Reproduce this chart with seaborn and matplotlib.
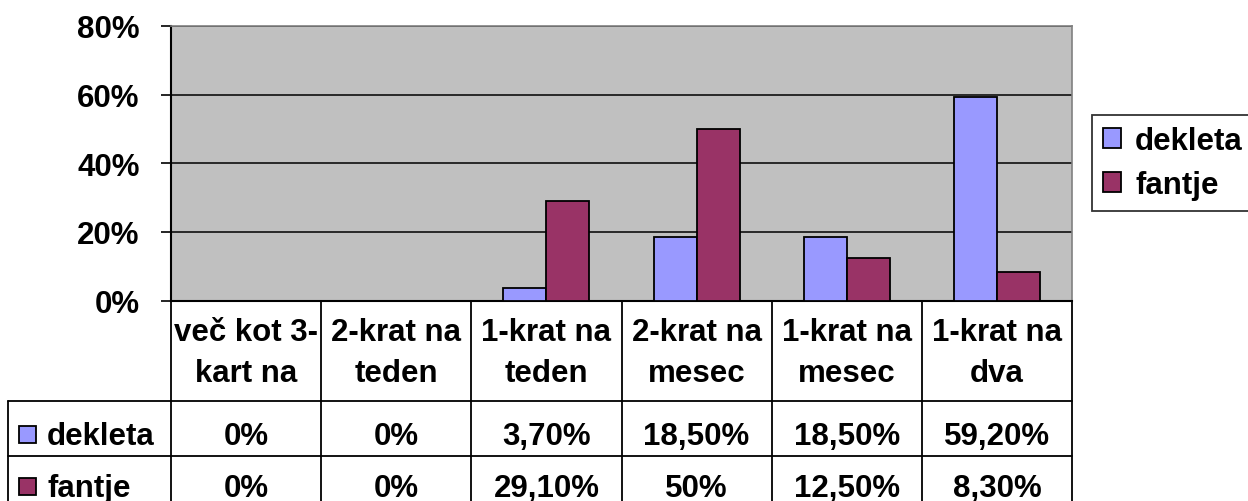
import matplotlib
matplotlib.use("Agg")
import matplotlib.pyplot as plt
from matplotlib.patches import Patch, Rectangle
import seaborn as sns
import pandas as pd

# ---------------- data ----------------
categories = ["več kot 3-\nkart na", "2-krat na\nteden", "1-krat na\nteden",
              "2-krat na\nmesec", "1-krat na\nmesec", "1-krat na\ndva"]
series_names = ["dekleta", "fantje"]
dekleta = [0.0, 0.0, 3.7, 18.5, 18.5, 59.2]
fantje = [0.0, 0.0, 29.1, 50.0, 12.5, 8.3]
dekleta_labels = ["0%", "0%", "3,70%", "18,50%", "18,50%", "59,20%"]
fantje_labels = ["0%", "0%", "29,10%", "50%", "12,50%", "8,30%"]
yticks = [0, 20, 40, 60, 80]
ytick_labels = ["0%", "20%", "40%", "60%", "80%"]
colors = ["#9999FF", "#993366"]

df = pd.DataFrame({
    "cat": categories * 2,
    "series": [series_names[0]] * 6 + [series_names[1]] * 6,
    "value": dekleta + fantje,
})

# ---------------- style ----------------
sns.set_style("white")
plt.rcParams["font.family"] = ["Liberation Sans", "DejaVu Sans"]
plt.rcParams["font.weight"] = "bold"
for k in ["text.color", "axes.labelcolor", "xtick.color", "ytick.color"]:
    plt.rcParams[k] = "black"
FS = 22.5

W, H = 1248, 502
fig = plt.figure(figsize=(W / 100, H / 100), dpi=100)
L, R, T, B = 171, 1072, 26.9, 301.7
ax = fig.add_axes([L / W, 1 - B / H, (R - L) / W, (B - T) / H])

sns.barplot(data=df, x="cat", y="value", hue="series", order=categories,
            hue_order=series_names, palette=colors, width=0.572, gap=0,
            edgecolor="black", linewidth=1.3, saturation=1, ax=ax,
            legend=False, zorder=3)

ax.set_facecolor("#C0C0C0")
ax.set_ylim(0, 80)
ax.set_xlim(-0.5, len(categories) - 0.5)
ax.set_yticks(yticks)
ax.set_yticklabels(ytick_labels, fontsize=FS, fontweight="bold", color="black")
ax.set_xticks([])
ax.set_xlabel("")
ax.set_ylabel("")
ax.tick_params(axis="y", length=7.5, width=1.2, pad=15, direction="out", color="black", left=True)
ax.yaxis.grid(True, color="black", linewidth=1.1, zorder=1)
ax.set_axisbelow(True)
for s in ["top", "right"]:
    ax.spines[s].set_color("#808080")
    ax.spines[s].set_linewidth(1.2)
for s in ["left", "bottom"]:
    ax.spines[s].set_color("black")
    ax.spines[s].set_linewidth(1.5)

# legend
handles = [Patch(facecolor=c, edgecolor="black", linewidth=1.3) for c in colors]
leg = fig.legend(handles, series_names, loc="upper left",
                 bbox_to_anchor=(1092 / W, 1 - 116 / H), borderaxespad=0,
                 prop={"size": FS, "weight": "bold"}, frameon=True, fancybox=False,
                 handlelength=0.58, handleheight=0.58, handletextpad=0.45,
                 borderpad=0.35, labelspacing=0.45, labelcolor="black")
leg.get_frame().set_edgecolor("black")
leg.get_frame().set_linewidth(1.3)

# ---------------- data table (pixel overlay) ----------------
ov = fig.add_axes([0, 0, 1, 1], facecolor="none")
ov.set_xlim(0, W)
ov.set_ylim(H, 0)
ov.axis("off")
n = len(categories)
colw = (R - L) / n
xs = [L + i * colw for i in range(n + 1)]
row1, row2, bottom = 402.3, 456.7, 520
lw = 1.3
for x in xs:
    ov.plot([x, x], [B, bottom], color="black", lw=lw, solid_capstyle="butt")
ov.plot([8, 8], [row1, bottom], color="black", lw=lw)
ov.plot([8, R], [row1, row1], color="black", lw=lw)
ov.plot([8, R], [row2, row2], color="black", lw=lw)

tk = dict(fontsize=FS, fontweight="bold", ha="center", va="baseline", color="black")
for i, c in enumerate(categories):
    cx = L + (i + 0.5) * colw
    l1, l2 = c.split("\n")
    ov.text(cx, 341.5, l1, **tk)
    ov.text(cx, 382.5, l2, **tk)
    ov.text(cx, 445.0, dekleta_labels[i], **tk)
    ov.text(cx, 497.0, fantje_labels[i], **tk)

for j, (name, col, base, sq) in enumerate(zip(series_names, colors, [445.0, 497.0], [427.0, 479.0])):
    ov.add_patch(Rectangle((19, sq), 17, 17, facecolor=col, edgecolor="black", lw=1.3))
    ov.text(47, base, name, fontsize=FS, fontweight="bold", ha="left", va="baseline", color="black")

fig.savefig("out.png", dpi=100)
